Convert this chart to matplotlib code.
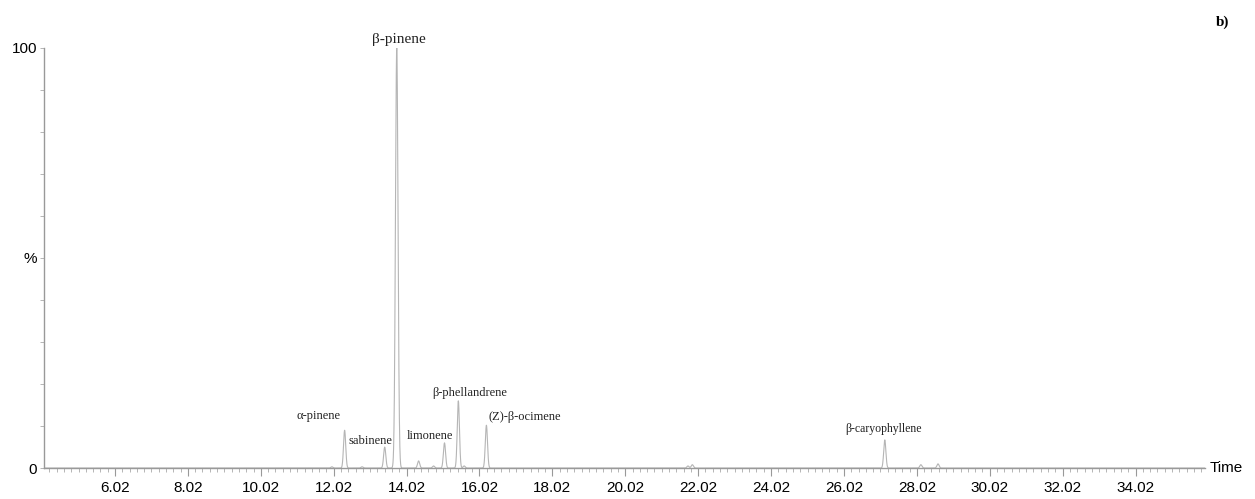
import numpy as np
import matplotlib.pyplot as plt

# peak table: retention time (min), relative height (%), width (min)
rt = [11.97, 12.32, 12.80, 13.42, 13.75, 14.35, 14.76, 15.06, 15.44, 15.60,
      16.21, 21.74, 21.86, 27.14, 28.13, 28.60]
height = [0.3, 9.0, 0.3, 5.0, 100.0, 1.7, 0.5, 6.0, 16.0, 0.5,
          10.2, 0.5, 0.8, 6.7, 0.8, 1.0]
sigma = [0.03, 0.03, 0.03, 0.03, 0.035, 0.03, 0.03, 0.03, 0.03, 0.03,
         0.03, 0.03, 0.03, 0.03, 0.03, 0.03]

# compound labels: text, label centre x (min), label centre y (%), font size
names = ['α-pinene', 'sabinene', 'β-pinene', 'limonene', 'β-phellandrene',
         '(Z)-β-ocimene', 'β-caryophyllene']
name_x = [11.60, 13.04, 13.82, 14.66, 15.74, 17.27, 27.11]
name_y = [12.4, 6.4, 102.0, 7.6, 17.9, 12.1, 9.3]
name_size = [9, 9, 11, 9, 9, 9, 8.5]

tick_pos = [6.02, 8.02, 10.02, 12.02, 14.02, 16.02, 18.02, 20.02, 22.02,
            24.02, 26.02, 28.02, 30.02, 32.02, 34.02]

x_min, x_max = 4.07, 35.92

t = np.linspace(x_min, x_max, 12000)
signal = np.zeros_like(t)
for r, h, s in zip(rt, height, sigma):
    signal += h * np.exp(-0.5 * ((t - r) / s) ** 2)

fig = plt.figure(figsize=(12.55, 4.99), dpi=100)
ax = fig.add_axes([0.035, 0.062, 0.925, 0.842])
ax.plot(t, signal, color='#b5b5b5', lw=0.8)

ax.set_xlim(x_min, x_max)
ax.set_ylim(0, 100)
for side in ['top', 'right']:
    ax.spines[side].set_visible(False)
for side in ['left', 'bottom']:
    ax.spines[side].set_color('#999999')
    ax.spines[side].set_linewidth(1.0)

sans = 'Liberation Sans'
ax.set_xticks(tick_pos)
ax.set_xticklabels([f'{v:.2f}' for v in tick_pos], fontsize=11, family=sans)
ax.set_xticks(np.arange(4.22, x_max, 0.2), minor=True)
ax.tick_params(axis='x', which='major', length=6, width=0.8, color='#999999', pad=3)
ax.tick_params(axis='x', which='minor', length=3, width=0.6, color='#aaaaaa')

ax.set_yticks([0, 50, 100])
ax.set_yticklabels(['0', '%', '100'], fontsize=11, family=sans)
ax.set_yticks(np.arange(10, 100, 10), minor=True)
ax.tick_params(axis='y', which='both', length=3, width=0.6, color='#aaaaaa', pad=2)

ax.text(1.004, 0.0, 'Time', transform=ax.transAxes, fontsize=11, family=sans,
        ha='left', va='center')

serif = 'Liberation Serif'
for n, x, y, fs in zip(names, name_x, name_y, name_size):
    ax.text(x, y, n, fontsize=fs, family=serif, color='#222222',
            ha='center', va='center', clip_on=False)

fig.text(0.974, 0.956, 'b)', fontsize=11, family=serif, weight='bold',
         ha='center', va='center')

fig.savefig('out.png', dpi=100)
